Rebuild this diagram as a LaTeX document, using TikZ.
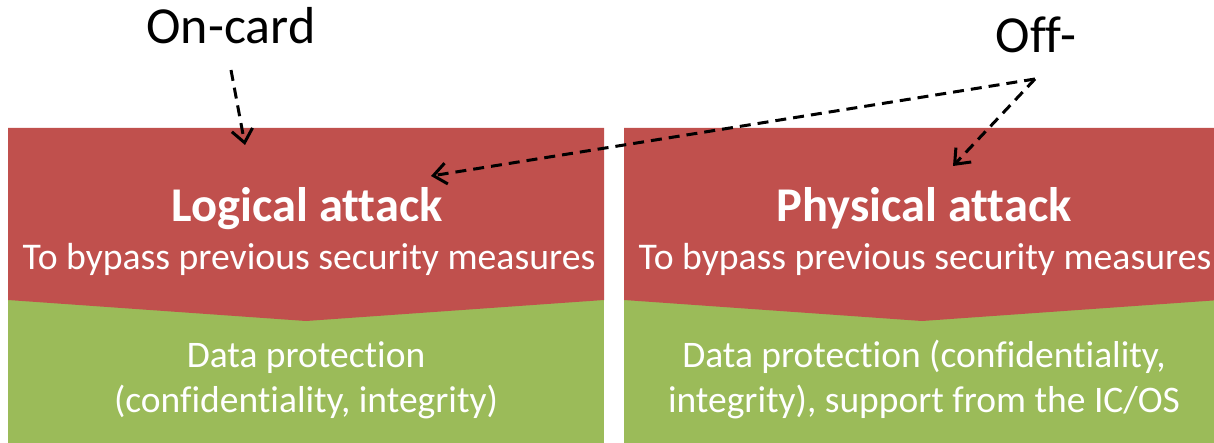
\documentclass[tikz,border=0pt]{standalone}
\usepackage{fontspec}
\setmainfont{Carlito}[Ligatures={NoCommon}]
\usetikzlibrary{arrows.meta}
\definecolor{attackred}{HTML}{C0504D}
\definecolor{protgreen}{HTML}{9BBB59}
\tikzset{
  redpart/.style={fill=attackred, draw=none},
  greenpart/.style={fill=protgreen, draw=none},
  titletext/.style={text=white, font=\fontsize{48.5}{56}\selectfont\bfseries, anchor=base, inner sep=0pt},
  subtext/.style={text=white, font=\fontsize{37.7}{44}\selectfont, anchor=base, inner sep=0pt},
  greentext/.style={text=white, font=\fontsize{37.5}{45}\selectfont, anchor=base, inner sep=0pt, align=center},
  labeltext/.style={text=black, font=\fontsize{52}{60}\selectfont, anchor=base, inner sep=0pt},
  dasharrow/.style={draw=black, line width=3pt, dash pattern=on 11pt off 7pt, -{Straight Barb[length=13pt,width=21pt]}}
}
\begin{document}
\begin{tikzpicture}[x=1pt,y=-1pt]
\useasboundingbox (0,0) rectangle (1214,443);
\clip (0,0) rectangle (1214,443);
% left panel
\fill[greenpart] (8,290) rectangle (604,443);
\fill[redpart] (8,128) -- (604,128) -- (604,300) -- (306,321) -- (8,300) -- cycle;
% right panel
\fill[greenpart] (624,290) rectangle (1220,443);
\fill[redpart] (624,128) -- (1220,128) -- (1220,300) -- (922,321) -- (624,300) -- cycle;
% texts
\node[titletext] (logt) at (307,222) {Logical attack};
\node[subtext] (logs) at (309,270) {To bypass previous security measures};
\node[greentext] (logg) at (306,412) {Data protection\\(confidentiality, integrity)};
\node[titletext] (phyt) at (924,222) {Physical attack};
\node[subtext] (phys) at (925,270) {To bypass previous security measures};
\node[greentext] (phyg) at (924,412) {Data protection (confidentiality,\\integrity), support from the IC/OS};
\node[labeltext] (oncard) at (231,44) {On-card};
\node[labeltext] (off) at (1036,53) {Off-};
% arrows
\coordinate (ontail) at (231,70);
\coordinate (onhead) at (245,145);
\coordinate (offtail) at (1035,79);
\coordinate (loghead) at (431,176);
\coordinate (phyhead) at (953,166);
\draw[dasharrow] (ontail) -- (onhead);
\draw[dasharrow] (offtail) -- (loghead);
\draw[dasharrow] (offtail) -- (phyhead);
\end{tikzpicture}
\end{document}
